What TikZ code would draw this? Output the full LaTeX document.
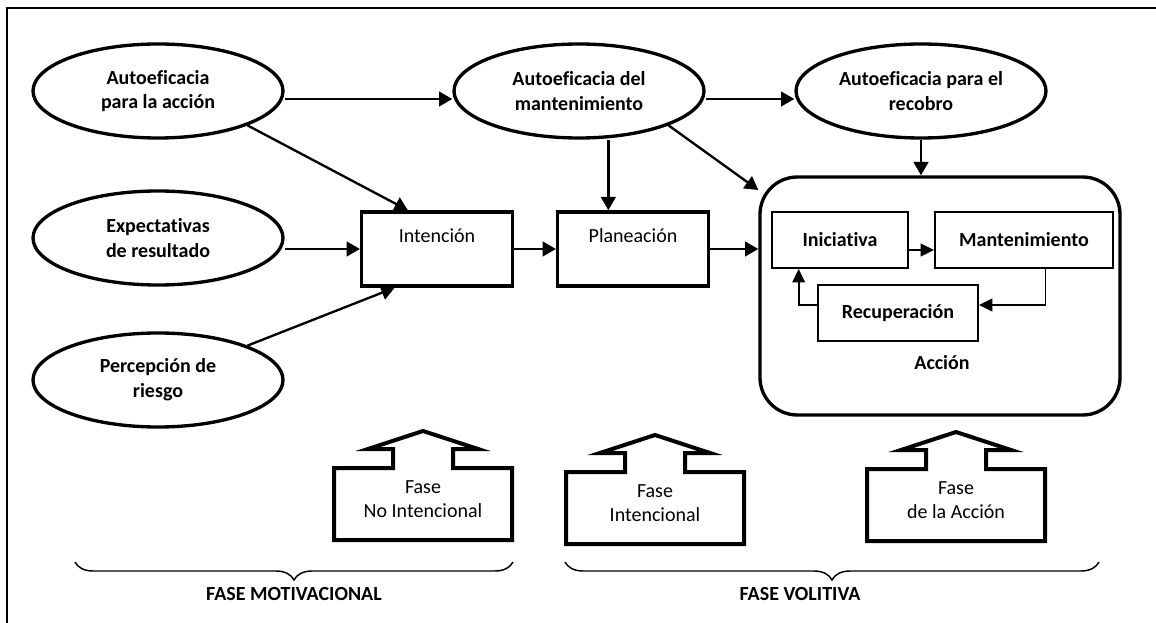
\documentclass[tikz,border=0pt]{standalone}
\usepackage{fontspec}
\setmainfont{Carlito}[Ligatures=NoCommon]
\usepackage{tikz}
\usetikzlibrary{arrows.meta}
\usetikzlibrary{shapes.geometric}
\usetikzlibrary{decorations.pathreplacing}

\newcommand{\letra}{\fontsize{15}{18.5}\selectfont}

\tikzset{
  elipse/.style={ellipse, draw, line width=2.5pt, minimum width=187.5pt, minimum height=70.5pt, inner sep=0pt, align=center, font=\letra\bfseries},
  caja/.style={rectangle, draw, line width=2.6pt, minimum width=113pt, minimum height=55.5pt, text height=11pt, text depth=20pt, font=\letra},
  cajita/.style={rectangle, draw, line width=1.5pt, minimum height=42pt, font=\letra\bfseries},
  accion/.style={rectangle, draw, line width=2.5pt, rounded corners=28pt, minimum width=270pt, minimum height=178.5pt},
  flecha/.style={-{Triangle[length=10pt,width=11pt]}, line width=1.75pt},
  flechita/.style={-{Triangle[length=10pt,width=9.5pt]}, line width=1.25pt},
  fase/.style={line width=3pt, line join=miter},
  llave/.style={decorate, decoration={brace, amplitude=13.5pt, mirror}, line width=1.1pt},
}

\begin{document}
\begin{tikzpicture}[x=0.75pt, y=-0.75pt]
				\useasboundingbox (0,0) rectangle (1156,623);
				\draw[line width=1.75pt] (7,623) -- (7,8) -- (1156,8);

				\node[elipse] (AA) at (158,91) {Autoeficacia\\para la acción};
				\node[elipse] (ER) at (158,238) {Expectativas\\de resultado};
				\node[elipse] (PR) at (158,380) {Percepción de\\riesgo};
				\node[elipse] (AM) at (579,91) {Autoeficacia del\\mantenimiento};
				\node[elipse] (AR) at (921,91) {Autoeficacia para el\\recobro};

				\node[caja] (Int) at (437,249) {Intención};
				\node[caja] (Pla) at (633,249) {Planeación};

				\node[accion] (Acc) at (940,296) {};
				\node[cajita, minimum width=102pt] (Ini) at (840,240) {Iniciativa};
				\node[cajita, minimum width=133.5pt] (Man) at (1024,240) {Mantenimiento};
				\node[cajita, minimum width=120pt] (Rec) at (898,313) {Recuperación};
				\node[font=\letra\bfseries] (AccT) at (942,363) {Acción};

				\draw[flecha] ([yshift=-6pt]AA.east) -- ([yshift=-6pt]AM.west);
				\draw[flecha] ([yshift=-6pt]AM.east) -- ([yshift=-6pt]AR.west);
				\draw[flecha] (AA.south east) -- ([xshift=36pt]Int.north west);
				\draw[flecha] (ER.east |- Int) -- (Int.west);
				\draw[flecha] (PR.north east) -- ([xshift=26pt]Int.south west);
				\draw[flecha] (Int) -- (Pla);
				\draw[flecha] ([xshift=22pt]AM.south) -- ([xshift=22pt]AM.south |- Pla.north);
				\draw[flecha] (AM.south east) -- ([yshift=-11pt]Acc.north west);
				\draw[flecha] (AR.south) -- (AR.south |- Acc.north);
				\draw[flecha] (Pla.east) -- (Pla.east -| Acc.west);

				\draw[flechita] ([yshift=-7.5pt]Ini.east) -- ([yshift=-7.5pt]Ini.east -| Man.west);
				\draw[flechita] ([xshift=16pt]Man.south) |- ([yshift=6pt]Rec.east);
				\draw[flechita] ([yshift=6pt]Rec.west) -| ([xshift=-31pt]Ini.south);

				\foreach \cx/\tp/\nom/\txt in {423/468/FNI/{Fase\\No Intencional}, 655/472/FI/{Fase\\Intencional}, 956/469/FA/{Fase\\de la Acción}}{
					\draw[fase] ({\cx-89},{\tp+72}) -- ({\cx-89},\tp) -- ({\cx-30},\tp) -- ({\cx-30},{\tp-19}) -- ({\cx-55},{\tp-19}) -- (\cx,{\tp-37}) -- ({\cx+55},{\tp-19}) -- ({\cx+30},{\tp-19}) -- ({\cx+30},\tp) -- ({\cx+89},\tp) -- ({\cx+89},{\tp+72}) -- cycle;
					\node[align=center, font=\letra] (\nom) at (\cx,{\tp+31}) {\txt};
				}

				\draw[llave] (75,562) -- (513,562);
				\draw[llave] (565,562) -- (1099,562);
				\node[font=\letra\bfseries] (FM) at (294,594) {FASE MOTIVACIONAL};
				\node[font=\letra\bfseries] (FV) at (800,594) {FASE VOLITIVA};

			\end{tikzpicture}
\end{document}
